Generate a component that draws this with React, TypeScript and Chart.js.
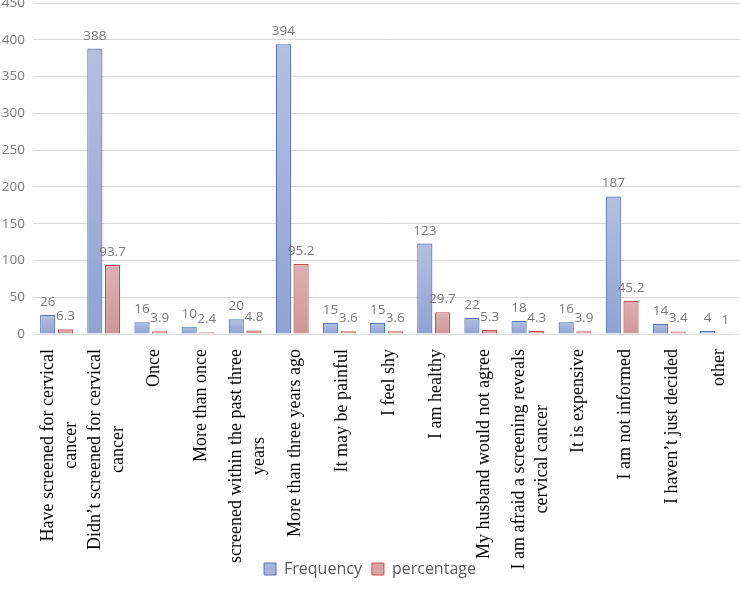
import React, { useEffect, useRef } from "react";
import { Chart, registerables } from "chart.js";

Chart.register(...registerables);

const categories: (string | string[])[] = [
  ["Have screened for cervical", "cancer"],
  ["Didn’t screened for cervical", "cancer"],
  "Once",
  "More than once",
  ["screened within the past three", "years"],
  "More than three years ago",
  "It may be painful",
  "I feel shy",
  "I am healthy",
  "My husband would not agree",
  ["I am afraid a screening reveals", "cervical cancer"],
  "It is expensive",
  "I am not informed",
  "I haven’t just decided",
  "other",
];

const frequency = [26, 388, 16, 10, 20, 394, 15, 15, 123, 22, 18, 16, 187, 14, 4];
const percentage = [6.3, 93.7, 3.9, 2.4, 4.8, 95.2, 3.6, 3.6, 29.7, 5.3, 4.3, 3.9, 45.2, 3.4, 1];

const seriesNames = ["Frequency", "percentage"];

const BLUE_TOP = "#b3c0e0";
const BLUE_BOTTOM = "#8fa2d3";
const BLUE_BORDER = "#5474bc";
const RED_TOP = "#dfb0b0";
const RED_BOTTOM = "#cf9797";
const RED_BORDER = "#c0504d";

function gradientFill(top: string, bottom: string) {
  return (ctx: any) => {
    const chart = ctx.chart;
    const y = chart.scales && chart.scales.y;
    if (ctx.type !== "data" || !y) return top;
    const v = ctx.raw as number;
    const yTop = y.getPixelForValue(v);
    const yBot = y.getPixelForValue(0);
    if (!isFinite(yTop) || !isFinite(yBot) || yTop === yBot) return top;
    const g = chart.ctx.createLinearGradient(0, yTop, 0, yBot);
    g.addColorStop(0, top);
    g.addColorStop(1, bottom);
    return g;
  };
}

const valueLabels = {
  id: "valueLabels",
  afterDatasetsDraw(chart: any) {
    const c = chart.ctx;
    c.save();
    c.font = "13.5px 'Open Sans'";
    c.fillStyle = "#7a7a7a";
    c.textAlign = "center";
    c.textBaseline = "alphabetic";
    chart.data.datasets.forEach((ds: any, i: number) => {
      const meta = chart.getDatasetMeta(i);
      meta.data.forEach((el: any, j: number) => {
        c.fillText(String(ds.data[j]), el.x, el.y - 9);
      });
    });
    c.restore();
  },
};

const rotatedLabels = {
  id: "rotatedLabels",
  afterDraw(chart: any) {
    const c = chart.ctx;
    const xs = chart.scales.x;
    const topY = chart.chartArea.bottom + 15;
    const lh = 23;
    c.save();
    c.font = "18px 'Liberation Serif'";
    c.fillStyle = "#000000";
    c.textAlign = "center";
    c.textBaseline = "middle";
    categories.forEach((lab, i) => {
      const lines = Array.isArray(lab) ? lab : [lab];
      const w = Math.max(...lines.map((l) => c.measureText(l).width));
      const cx = xs.getPixelForValue(i) + 3;
      lines.forEach((line, j) => {
        const off = (j - (lines.length - 1) / 2) * lh;
        c.save();
        c.translate(cx + off, topY);
        c.rotate(-Math.PI / 2);
        c.fillText(line, -w / 2, 0);
        c.restore();
      });
    });
    c.restore();
  },
};

export default function App() {
  const ref = useRef<HTMLCanvasElement | null>(null);

  useEffect(() => {
    document.body.style.margin = "0";
    if (!ref.current) return;
    const chart = new Chart(ref.current, {
      type: "bar",
      data: {
        labels: categories.map((c) => (Array.isArray(c) ? c.join(" ") : c)),
        datasets: [
          {
            label: seriesNames[0],
            data: frequency,
            backgroundColor: gradientFill(BLUE_TOP, BLUE_BOTTOM),
            borderColor: BLUE_BORDER,
            borderWidth: 1.2,
            categoryPercentage: 0.75,
            barPercentage: 0.86,
          },
          {
            label: seriesNames[1],
            data: percentage,
            backgroundColor: gradientFill(RED_TOP, RED_BOTTOM),
            borderColor: RED_BORDER,
            borderWidth: 1.2,
            categoryPercentage: 0.75,
            barPercentage: 0.86,
          },
        ],
      },
      options: {
        responsive: false,
        animation: false,
        layout: { padding: { top: 3, right: 2, left: 0, bottom: 18 } },
        scales: {
          x: {
            grid: { display: false },
            border: { display: false },
            ticks: { display: false },
            afterFit: (s: any) => {
              s.height = 217;
            },
          },
          y: {
            min: 0,
            max: 450,
            ticks: {
              stepSize: 50,
              padding: 8,
              color: "#7a7a7a",
              font: { family: "'Open Sans'", size: 13.5 },
            },
            grid: { color: "#d9d9d9", drawTicks: false, lineWidth: 1 },
            border: { display: false },
            afterFit: (s: any) => {
              s.width = 33;
              s.paddingTop = 0;
              s.paddingBottom = 0;
            },
          },
        },
        plugins: {
          tooltip: { enabled: false },
          legend: {
            position: "bottom",
            labels: {
              boxWidth: 12,
              boxHeight: 12,
              padding: 10,
              color: "#595959",
              font: { family: "'Open Sans'", size: 16 },
              generateLabels: () => [
                {
                  text: seriesNames[0],
                  fillStyle: "#a3b3da",
                  strokeStyle: BLUE_BORDER,
                  lineWidth: 1,
                  datasetIndex: 0,
                  fontColor: "#595959",
                  hidden: false,
                },
                {
                  text: seriesNames[1],
                  fillStyle: "#d9a5a5",
                  strokeStyle: RED_BORDER,
                  lineWidth: 1,
                  datasetIndex: 1,
                  fontColor: "#595959",
                  hidden: false,
                },
              ],
            },
          },
        },
      },
      plugins: [valueLabels, rotatedLabels],
    } as any);
    return () => chart.destroy();
  }, []);

  return (
    <div style={{ position: "absolute", left: 0, top: 0, width: 742, height: 605 }}>
      <canvas ref={ref} width={742} height={605} />
    </div>
  );
}
